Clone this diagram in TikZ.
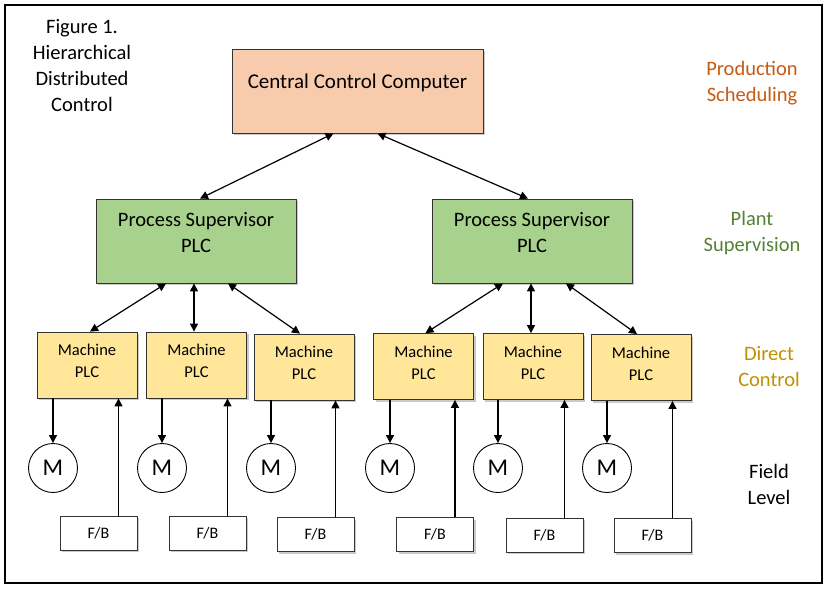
\documentclass[tikz,border=0pt]{standalone}
\usepackage{fontspec}
\setmainfont{Carlito}
\usetikzlibrary{arrows.meta,shadows}
\definecolor{ccfill}{HTML}{F8CBAD}
\definecolor{psfill}{HTML}{A9D18E}
\definecolor{mpfill}{HTML}{FFE699}
\definecolor{prodcol}{HTML}{C55A11}
\definecolor{plantcol}{HTML}{548235}
\definecolor{directcol}{HTML}{BF9000}
\tikzset{
  shadowed/.style={drop shadow={shadow xshift=2pt,shadow yshift=-2pt,opacity=0.35,fill=black!60}},
  boxbase/.style={draw=black!80,line width=0.8pt,shadowed,inner sep=0pt},
  ccbox/.style={boxbase,fill=ccfill,minimum width=251pt,minimum height=84pt},
  psbox/.style={boxbase,fill=psfill,minimum width=200pt,minimum height=84pt},
  mpbox/.style={boxbase,fill=mpfill,minimum width=100pt,minimum height=66pt},
  fbbox/.style={boxbase,fill=white,minimum width=77pt,minimum height=34pt,font=\fontsize{16}{18}\selectfont},
  motor/.style={circle,draw=black,line width=0.9pt,fill=white,minimum size=49pt,inner sep=0pt,font=\fontsize{24}{26}\selectfont},
  sidelabel/.style={align=center,font=\fontsize{20.5}{26}\selectfont},
  conn/.style={line width=1.2pt,-{Triangle[width=8pt,length=8pt]}},
  dconn/.style={line width=1.2pt,{Triangle[width=8pt,length=8pt]}-{Triangle[width=8pt,length=8pt]}},
}
\begin{document}
\begin{tikzpicture}[x=1pt,y=-1pt]
\useasboundingbox (0,0) rectangle (829,589);
\draw[line width=1.2pt] (5,5) rectangle (822,583);

% side labels
\node[sidelabel] (fig) at (82,66) {Figure 1.\\Hierarchical\\Distributed\\Control};
\node[sidelabel,text=prodcol] (prod) at (752,83) {Production\\Scheduling};
\node[sidelabel,text=plantcol] (plant) at (752,233) {Plant\\Supervision};
\node[sidelabel,text=directcol] (direct) at (769,367) {Direct\\Control};
\node[sidelabel] (field) at (769,484) {Field\\Level};

% central
\node[ccbox,label={[font=\fontsize{21}{24}\selectfont,yshift=8pt]center:Central Control Computer}] (cc) at (357.5,91) {};

% process supervisors
\node[psbox,label={[font=\fontsize{20.5}{26}\selectfont,align=center,yshift=8pt]center:Process Supervisor\\PLC}] (ps1) at (196,241) {};
\node[psbox,label={[font=\fontsize{20.5}{26}\selectfont,align=center,yshift=8pt]center:Process Supervisor\\PLC}] (ps2) at (532,241) {};

% machine PLCs
\foreach \n/\x/\y in {1/87/365,2/196.5/365,3/304/367,4/423.5/366.5,5/533/366.5,6/641/367.5}{
  \node[mpbox,label={[font=\fontsize{16.5}{22}\selectfont,align=center,yshift=4pt]center:Machine\\PLC}] (mp\n) at (\x,\y) {};
}

% motors
\foreach \n/\x in {1/53,2/162,3/271,4/390,5/498,6/607}{
  \node[motor] (m\n) at (\x,468) {M};
}

% F/B boxes
\foreach \n/\x/\y in {1/98.5/533,2/207.5/533,3/315.5/534.5,4/435/534.5,5/544.5/535,6/652.5/535.5}{
  \node[fbbox] (fb\n) at (\x,\y) {F/B};
}

% central to supervisors
\draw[dconn] ([xshift=-24pt]cc.south) -- ([xshift=4pt]ps1.north);
\draw[dconn] ([xshift=20pt]cc.south) -- ([xshift=-4pt]ps2.north);

% supervisors to machine PLCs
\draw[dconn] ([xshift=-30pt]ps1.south) -- ([xshift=3pt]mp1.north);
\draw[dconn] ([xshift=-2pt]ps1.south) -- ([xshift=-2.5pt]mp2.north);
\draw[dconn] ([xshift=32pt]ps1.south) -- ([xshift=-4pt]mp3.north);
\draw[dconn] ([xshift=-29pt]ps2.south) -- ([xshift=2pt]mp4.north);
\draw[dconn] ([xshift=-1pt]ps2.south) -- ([xshift=-2pt]mp5.north);
\draw[dconn] ([xshift=34pt]ps2.south) -- ([xshift=-4pt]mp6.north);

% machine PLC to motors, and feedback up
\foreach \n in {1,...,6}{
  \draw[conn] (m\n.north |- mp\n.south) -- (m\n.north);
  \draw[conn] ([xshift=20pt]fb\n.north) -- ([xshift=20pt]fb\n.north |- mp\n.south);
}
\end{tikzpicture}
\end{document}
